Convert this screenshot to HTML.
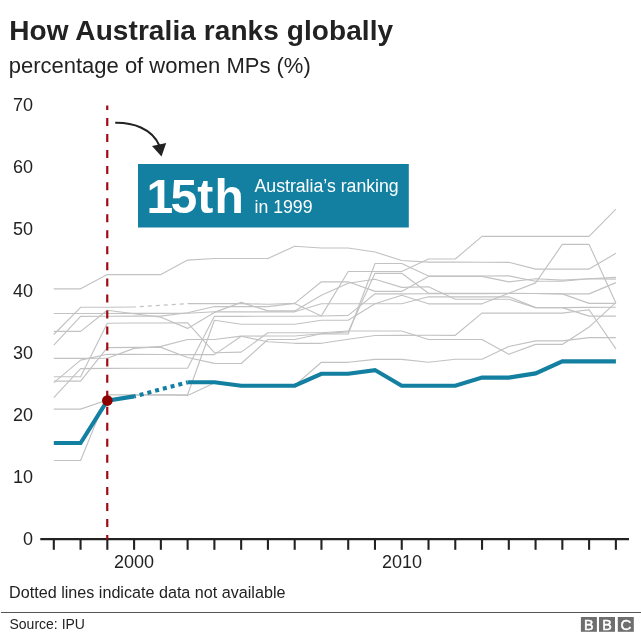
<!DOCTYPE html>
<html lang="en">
<head>
<meta charset="utf-8">
<title>How Australia ranks globally</title>
<style>
  html, body { margin: 0; padding: 0; background: #ffffff; }
  body { width: 641px; height: 638px; overflow: hidden; }
  svg { display: block; will-change: transform; }
  text { font-family: "Liberation Sans", Arial, Helvetica, sans-serif; fill: #222222; }
  .title { font-size: 28px; font-weight: bold; }
  .sub { font-size: 22px; }
  .lab { font-size: 16.15px; }
  .foot { font-size: 14px; }
  .ax { font-size: 18px; }
  .g { fill: none; stroke: #c2c2c2; stroke-width: 1.15; stroke-linejoin: round; }
  .au { fill: none; stroke: #1380a1; stroke-width: 4.1; stroke-linejoin: miter; }
</style>
</head>
<body>
<svg width="641" height="638" viewBox="0 0 641 638">
  <rect x="0" y="0" width="641" height="638" fill="#ffffff"/>

  <!-- headings -->
  <text class="title" x="9.2" y="40" letter-spacing="0.08">How Australia ranks globally</text>
  <text class="sub" x="8.7" y="72.5">percentage of women MPs (%)</text>

  <!-- y labels -->
  <g class="ax" text-anchor="end">
    <text x="33" y="111.3">70</text>
    <text x="33" y="173.3">60</text>
    <text x="33" y="235.3">50</text>
    <text x="33" y="297.3">40</text>
    <text x="33" y="359.3">30</text>
    <text x="33" y="421.3">20</text>
    <text x="33" y="483.3">10</text>
    <text x="33" y="545.3">0</text>
  </g>

  <!-- other countries -->
  <g class="g">
    <path d="M53.8 288.8 L80.6 288.8 L107.3 274.5 L134.1 274.6 L160.9 274.6 L187.6 260.1 L214.4 258.5 L241.2 258.5 L267.9 258.5 L294.7 246.2 L321.4 248.0 L348.2 248.0 L375.0 252.0 L401.7 260.5 L428.5 262.1 L455.3 262.1 L482.0 262.3 L508.8 262.3 L535.6 269.1 L562.3 269.1 L589.1 269.1 L615.9 253.3"/>
    <path d="M53.8 313.5 L80.6 313.5 L107.3 313.5 L134.1 313.4 L160.9 313.4 L187.6 313.3 L214.4 311.8 L241.2 311.8 L267.9 311.8 L294.7 311.8 L321.4 303.7 L348.2 303.7 L375.0 303.7 L401.7 303.7 L428.5 296.8 L455.3 296.8 L482.0 296.8 L508.8 296.7 L535.6 307.6 L562.3 307.6 L589.1 307.4 L615.9 307.3"/>
    <path d="M53.8 334.5 L80.6 307.3 L107.3 307.2 L134.1 307.0"/>
    <path d="M134.1 307.0 L160.9 305.3 L187.6 303.6" stroke-dasharray="4 4" stroke-dashoffset="2.25"/>
    <path d="M187.6 303.6 L214.4 303.6 L241.2 303.6 L267.9 304.3 L294.7 303.4 L321.4 281.8 L348.2 281.8 L375.0 291.4 L401.7 291.4 L428.5 276.4 L455.3 276.4 L482.0 276.4 L508.8 281.9 L535.6 278.7 L562.3 280.1 L589.1 278.8 L615.9 279.1"/>
    <path d="M53.8 345.2 L80.6 316.4 L107.3 316.3 L134.1 316.1 L160.9 316.1 L187.6 312.8 L214.4 306.5 L241.2 306.6 L267.9 306.6 L294.7 303.4 L321.4 315.9 L348.2 271.5 L375.0 271.5 L401.7 271.5 L428.5 259.0 L455.3 259.0 L482.0 236.4 L508.8 236.4 L535.6 236.4 L562.3 236.4 L589.1 236.4 L615.9 209.2"/>
    <path d="M53.8 331.4 L80.6 331.4 L107.3 310.2 L134.1 313.7 L160.9 317.2 L187.6 328.4 L214.4 312.4 L241.2 302.4 L267.9 310.9 L294.7 310.9 L321.4 295.2 L348.2 283.2 L375.0 279.3 L401.7 287.4 L428.5 286.8 L455.3 299.2 L482.0 299.2 L508.8 299.2 L535.6 307.6 L562.3 307.6 L589.1 316.1 L615.9 316.1"/>
    <path d="M53.8 358.4 L80.6 358.4 L107.3 358.3 L134.1 348.4 L160.9 346.4 L187.6 339.5 L214.4 339.5 L241.2 336.1 L267.9 336.0 L294.7 336.0 L321.4 333.7 L348.2 331.9 L375.0 273.3 L401.7 273.3 L428.5 293.3 L455.3 293.3 L482.0 293.3 L508.8 293.2 L535.6 293.5 L562.3 293.9 L589.1 293.9 L615.9 282.6"/>
    <path d="M53.8 382.6 L80.6 360.1 L107.3 354.3 L134.1 354.4 L160.9 354.5 L187.6 354.6 L214.4 354.6 L241.2 336.3 L267.9 341.8 L294.7 343.3 L321.4 343.3 L348.2 339.3 L375.0 335.5 L401.7 335.4 L428.5 335.3 L455.3 335.3 L482.0 313.1 L508.8 313.1 L535.6 313.1 L562.3 313.1 L589.1 309.7 L615.9 348.9"/>
    <path d="M53.8 397.7 L80.6 368.6 L107.3 368.4 L134.1 368.3 L160.9 368.2 L187.6 368.2 L214.4 316.3 L241.2 316.3 L267.9 316.2 L294.7 316.2 L321.4 316.0 L348.2 315.4 L375.0 293.8 L401.7 293.8 L428.5 293.7 L455.3 293.7 L482.0 293.7 L508.8 293.5 L535.6 293.5 L562.3 293.9 L589.1 303.4 L615.9 303.4"/>
    <path d="M53.8 376.7 L80.6 376.7 L107.3 323.3 L134.1 323.0 L160.9 323.0 L187.6 322.9 L214.4 352.7 L241.2 352.1 L267.9 332.7 L294.7 332.7 L321.4 332.7 L348.2 331.0 L375.0 331.0 L401.7 331.0 L428.5 339.5 L455.3 339.5 L482.0 339.5 L508.8 354.3 L535.6 344.4 L562.3 344.4 L589.1 327.1 L615.9 302.4"/>
    <path d="M53.8 381.1 L80.6 381.1 L107.3 347.6 L134.1 347.4 L160.9 347.4 L187.6 357.5 L214.4 363.4 L241.2 363.5 L267.9 339.5 L294.7 339.5 L321.4 333.7 L348.2 334.0 L375.0 263.5 L401.7 263.5 L428.5 276.0 L455.3 276.0 L482.0 276.0 L508.8 275.9 L535.6 281.2 L562.3 281.2 L589.1 278.8 L615.9 277.4"/>
    <path d="M53.8 409.1 L80.6 409.1 L107.3 400.0 L134.1 395.0 L160.9 394.8 L187.6 395.5 L214.4 383.0 L241.2 385.7 L267.9 385.7 L294.7 385.5 L321.4 362.3 L348.2 362.3 L375.0 359.4 L401.7 359.4 L428.5 362.3 L455.3 359.2 L482.0 359.2 L508.8 346.5 L535.6 340.9 L562.3 340.9 L589.1 337.6 L615.9 337.6"/>
    <path d="M53.8 460.5 L80.6 460.5 L107.3 394.8 L134.1 394.8 L160.9 394.8 L187.6 394.8 L214.4 320.3 L241.2 324.3 L267.9 324.2 L294.7 324.2 L321.4 320.2 L348.2 320.2 L375.0 303.7 L401.7 295.2 L428.5 303.8 L455.3 303.8 L482.0 303.8 L508.8 293.3 L535.6 282.9 L562.3 244.4 L589.1 244.4 L615.9 303.1"/>
  </g>

  <!-- axis -->
  <line x1="40.3" y1="539.1" x2="629" y2="539.1" stroke="#222222" stroke-width="2.1"/>
  <g stroke="#222222" stroke-width="2.1"><line x1="53.80" y1="539.1" x2="53.80" y2="549.8"/><line x1="80.56" y1="539.1" x2="80.56" y2="549.8"/><line x1="107.33" y1="539.1" x2="107.33" y2="549.8"/><line x1="134.09" y1="539.1" x2="134.09" y2="549.8"/><line x1="160.86" y1="539.1" x2="160.86" y2="549.8"/><line x1="187.62" y1="539.1" x2="187.62" y2="549.8"/><line x1="214.39" y1="539.1" x2="214.39" y2="549.8"/><line x1="241.16" y1="539.1" x2="241.16" y2="549.8"/><line x1="267.92" y1="539.1" x2="267.92" y2="549.8"/><line x1="294.69" y1="539.1" x2="294.69" y2="549.8"/><line x1="321.45" y1="539.1" x2="321.45" y2="549.8"/><line x1="348.22" y1="539.1" x2="348.22" y2="549.8"/><line x1="374.98" y1="539.1" x2="374.98" y2="549.8"/><line x1="401.75" y1="539.1" x2="401.75" y2="549.8"/><line x1="428.51" y1="539.1" x2="428.51" y2="549.8"/><line x1="455.28" y1="539.1" x2="455.28" y2="549.8"/><line x1="482.04" y1="539.1" x2="482.04" y2="549.8"/><line x1="508.81" y1="539.1" x2="508.81" y2="549.8"/><line x1="535.57" y1="539.1" x2="535.57" y2="549.8"/><line x1="562.34" y1="539.1" x2="562.34" y2="549.8"/><line x1="589.10" y1="539.1" x2="589.10" y2="549.8"/><line x1="615.87" y1="539.1" x2="615.87" y2="549.8"/></g>

  <!-- dashed 1999 marker -->
  <line x1="107.25" y1="105.5" x2="107.25" y2="539.5" stroke="#a00a16" stroke-width="2.2" stroke-dasharray="8 8.04" stroke-dashoffset="3.54"/>

  <!-- Australia line -->
  <path class="au" d="M53.8 443.0 L80.6 443.0 L107.3 400.6 L134.1 396.4"/>
  <path class="au" d="M134.1 396.4 L187.6 382.3" stroke-dasharray="4 4" stroke-dashoffset="2.25"/>
  <path class="au" d="M187.6 382.3 L214.4 382.3 L241.2 385.7 L267.9 385.7 L294.7 385.7 L321.4 373.8 L348.2 373.8 L375.0 370.1 L401.7 385.8 L428.5 385.8 L455.3 385.8 L482.0 377.6 L508.8 377.6 L535.6 373.4 L562.3 361.4 L589.1 361.4 L615.9 361.4"/>
  <circle cx="107.33" cy="400.6" r="5.3" fill="#8e0000"/>

  <!-- callout box -->
  <rect x="138" y="164" width="270.8" height="63.5" fill="#1380a1"/>
  <text x="146.5 170.6 197.3 214.5" y="212.5" style="font-size:48px;font-weight:bold;fill:#ffffff">15th</text>
  <text x="254.5" y="191.8" style="font-size:17.7px;fill:#ffffff">Australia’s ranking</text>
  <text x="254.5" y="213.1" style="font-size:17.7px;fill:#ffffff">in 1999</text>

  <!-- arrow -->
  <path d="M115.2 122.8 C132 122.5 152 128 159.6 146" fill="none" stroke="#222222" stroke-width="2"/>
  <path d="M152 146 L166.2 143.1 L161.5 156.5 Z" fill="#222222"/>

  <text class="ax" x="134" y="568.4" text-anchor="middle">2000</text>
  <text class="ax" x="402" y="568.4" text-anchor="middle">2010</text>

  <text class="lab" x="9.1" y="598">Dotted lines indicate data not available</text>

  <line x1="1" y1="612.5" x2="641" y2="612.5" stroke="#555555" stroke-width="1"/>
  <text class="foot" x="9.5" y="629.2">Source: IPU</text>

  <!-- BBC logo -->
  <g>
    <rect x="580.9" y="617" width="16" height="14.8" fill="#6e6e6e"/>
    <rect x="599" y="617" width="16" height="14.8" fill="#6e6e6e"/>
    <rect x="617.8" y="617" width="16" height="14.8" fill="#6e6e6e"/>
    <g style="font-size:14.4px;font-weight:normal;stroke:#ffffff;stroke-width:0.5" text-anchor="middle">
      <text x="588.9" y="629.6" style="fill:#ffffff">B</text>
      <text x="607" y="629.6" style="fill:#ffffff">B</text>
      <text x="625.8" y="629.6" style="fill:#ffffff;font-size:15px">C</text>
    </g>
  </g>
</svg>
</body>
</html>
